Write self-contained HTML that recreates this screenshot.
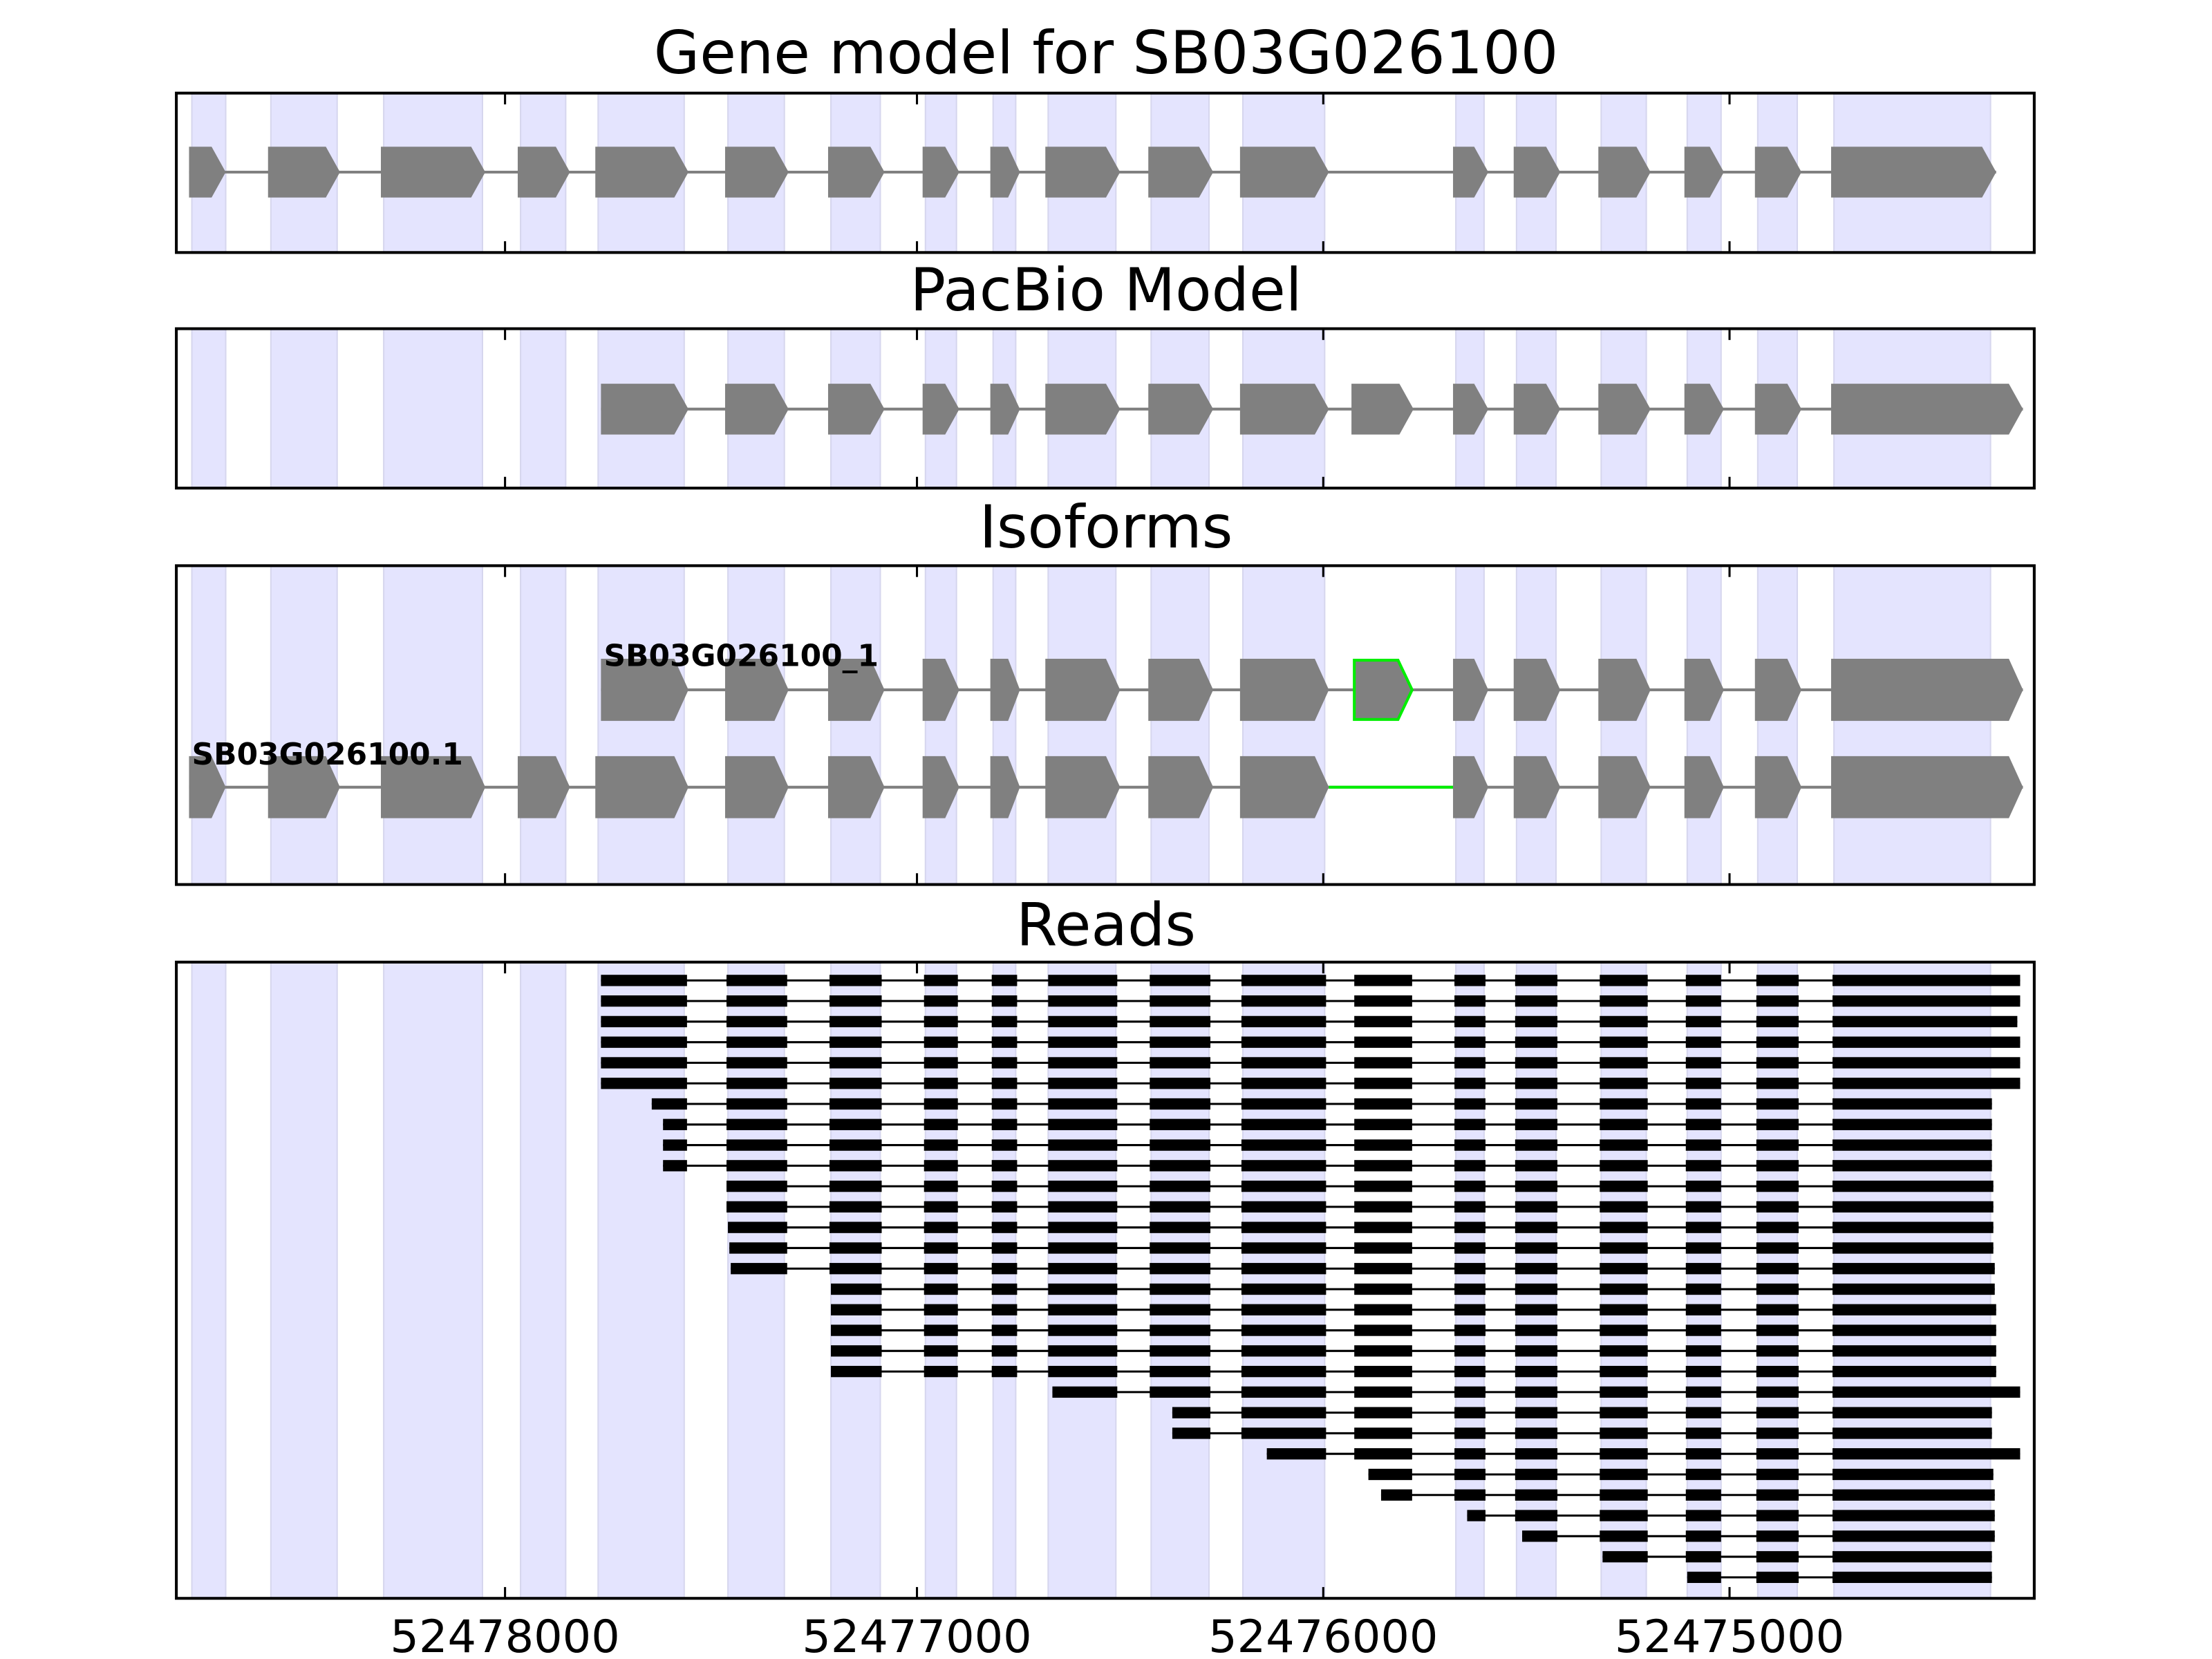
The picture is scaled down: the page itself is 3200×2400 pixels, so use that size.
<!DOCTYPE html>
<html><head><meta charset="utf-8"><style>
html,body{margin:0;padding:0;background:#fff}
svg{display:block}
text{font-family:"DejaVu Sans","Liberation Sans",sans-serif}
</style></head><body>
<svg id="s" width="3200" height="2400" viewBox="0 0 1568 1176" xmlns="http://www.w3.org/2000/svg"></svg>
<script>
const s=document.getElementById('s');let h='';
const L=125,R=1442;
const bands=[[136,160],[192,239],[272,342],[369,401],[424,485],[516,556],[589,624],[656,678],[704,720],[743,791],[816,857],[881,939],[1032,1052],[1075,1103],[1135,1167],[1196,1220],[1246,1274],[1300,1411]];
const gene=[[134,160],[190,241],[270,344],[367,404],[422,488],[514,559],[587,627],[654,680],[702,723],[741,794],[814,860],[879,942],[1030,1055],[1073,1106],[1133,1170],[1194,1222],[1244,1277],[1298,1415]];
const pac=[[426,488],[514,559],[587,627],[654,680],[702,723],[741,794],[814,860],[879,942],[958,1002],[1030,1055],[1073,1106],[1133,1170],[1194,1222],[1244,1277],[1298,1434]];
const panels=[[66,179,'Gene model for SB03G026100',46],[233,346,'PacBio Model',214],[401,627,'Isoforms',382],[682,1133,'Reads',664]];
function ex(a,b,yc,hh,fill,stroke){const t=Math.min(10,(b-a)*0.4);const y0=yc-hh/2,y1=yc+hh/2;
return `<polygon points="${a},${y0} ${b-t},${y0} ${b},${yc} ${b-t},${y1} ${a},${y1}" fill="${fill}" ${stroke?`stroke="${stroke}" stroke-width="2"`:''}/>`;}
function model(list,yc,hh){let o=`<line x1="${list[0][0]}" x2="${list[list.length-1][1]}" y1="${yc}" y2="${yc}" stroke="#808080" stroke-width="2"/>`;
list.forEach(e=>o+=ex(e[0],e[1],yc,hh,'#808080'));return o;}
for(const p of panels){
 for(const b of bands)h+=`<rect x="${b[0]}" y="${p[0]}" width="${b[1]-b[0]}" height="${p[1]-p[0]}" fill="#e4e4fe" stroke="#d6d6ee" stroke-width="1"/>`;
 h+=`<text x="784" y="${p[3]+6}" font-size="42" text-anchor="middle">${p[2]}</text>`;
}
h+=model(gene,122,36);
h+=model(pac,290,36);
let iso1=[[426,488],[514,559],[587,627],[654,680],[702,723],[741,794],[814,860],[879,942],[1030,1055],[1073,1106],[1133,1170],[1194,1222],[1244,1277],[1298,1434]];
h+=`<line x1="426" x2="1434" y1="489" y2="489" stroke="#808080" stroke-width="2"/>`;
iso1.forEach(e=>h+=ex(e[0],e[1],489,44,'#808080'));
h+=ex(960,1001,489,42,'#808080','#00ee00');
let iso2=gene.slice();iso2[iso2.length-1]=[1298,1434];
h+=`<line x1="134" x2="1434" y1="558" y2="558" stroke="#808080" stroke-width="2"/>`;
h+=`<line x1="942" x2="1032" y1="558" y2="558" stroke="#00ee00" stroke-width="2"/>`;
iso2.forEach(e=>h+=ex(e[0],e[1],558,44,'#808080'));
h+=`<text x="428" y="472" font-size="21.5" font-weight="bold">SB03G026100_1</text>`;
h+=`<text x="136" y="542" font-size="21.5" font-weight="bold">SB03G026100.1</text>`;
const rb=[[426,487],[515,558],[588,625],[655,679],[703,721],[743,792],[815,858],[880,940],[960,1001],[1031,1053],[1074,1104],[1134,1168],[1195,1220],[1245,1275],[1299,1432]];
const reads=[[426,1432],[426,1432],[426,1430],[426,1432],[426,1432],[426,1432],[462,1412],[470,1412],[470,1412],[470,1412],[515,1413],[515,1413],[516,1413],[517,1413],[518,1414],[589,1414],[589,1415],[589,1415],[589,1415],[589,1415],[746,1432],[831,1412],[831,1412],[898,1432],[970,1413],[979,1414],[1040,1414],[1079,1414],[1136,1412],[1196,1412]];
reads.forEach((r,i)=>{const y=695+i*14.59;
 h+=`<line x1="${r[0]}" x2="${r[1]}" y1="${y}" y2="${y}" stroke="#000" stroke-width="1.5"/>`;
 rb.forEach(b=>{let a=Math.max(b[0],r[0]),e=b[1];if(b[1]>1290)e=r[1];if(e>a&&b[1]>r[0])h+=`<rect x="${a}" y="${y-4}" width="${e-a}" height="8" fill="#000"/>`;});
});
for(const p of panels){h+=`<rect x="${L}" y="${p[0]}" width="${R-L}" height="${p[1]-p[0]}" fill="none" stroke="#000" stroke-width="2"/>`;
 for(const t of [358,650,938,1226])h+=`<line x1="${t}" x2="${t}" y1="${p[0]}" y2="${p[0]+8}" stroke="#000" stroke-width="1.5"/><line x1="${t}" x2="${t}" y1="${p[1]}" y2="${p[1]-8}" stroke="#000" stroke-width="1.5"/>`;}
[[358,'52478000'],[650,'52477000'],[938,'52476000'],[1226,'52475000']].forEach(t=>h+=`<text x="${t[0]}" y="1171" font-size="32" text-anchor="middle">${t[1]}</text>`);
s.innerHTML=h;
</script>
</body></html>
